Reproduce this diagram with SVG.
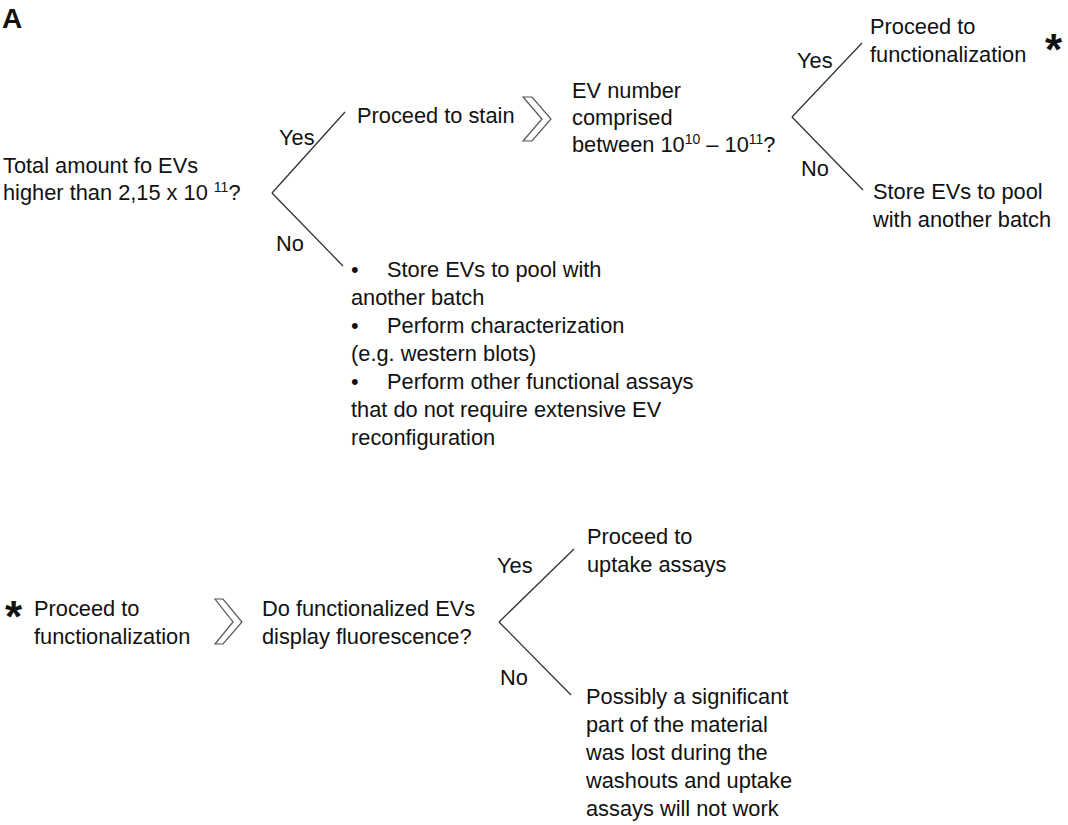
<svg xmlns="http://www.w3.org/2000/svg" width="1068" height="825" viewBox="0 0 1068 825">
<style>
text{font-family:"Liberation Sans",Arial,sans-serif;font-size:21.8px;fill:#111}
.b{font-weight:bold}
.sup{font-size:14px}
.star{font-size:44px;font-weight:bold}
.conn line{stroke:#333;stroke-width:1.3}
.chev{fill:#fff;stroke:#555;stroke-width:1.2;stroke-linejoin:miter}
</style>
<rect width="1068" height="825" fill="#fff"/>
<text class="b" x="2" y="28" style="font-size:28px">A</text>
<g id="q1"><text x="3" y="173">Total amount fo EVs</text><text x="3" y="200">higher than 2,15 x 10 <tspan class="sup" dy="-8">11</tspan><tspan dy="8">?</tspan></text></g>
<g id="stain"><text x="357" y="123">Proceed to stain</text></g>
<g id="chev1"><polygon class="chev" points="523,97 532,97 551,119 532,141 523,141 542,119"/></g>
<g id="q2"><text x="572" y="98">EV number</text><text x="572" y="125">comprised</text><text x="572" y="152">between 10<tspan class="sup" dy="-8">10</tspan><tspan dy="8"> – 10</tspan><tspan class="sup" dy="-8">11</tspan><tspan dy="8">?</tspan></text></g>
<g id="func1"><text x="870" y="34">Proceed to</text><text x="870" y="62">functionalization</text><text class="star" x="1045" y="65">*</text></g>
<g id="store1"><text x="873" y="199">Store EVs to pool</text><text x="873" y="227">with another batch</text></g>
<g id="list"><text x="351" y="277">•</text><text x="387" y="277">Store EVs to pool with</text><text x="351" y="305">another batch</text><text x="351" y="333">•</text><text x="387" y="333">Perform characterization</text><text x="351" y="361">(e.g. western blots)</text><text x="351" y="389">•</text><text x="387" y="389">Perform other functional assays</text><text x="351" y="417">that do not require extensive EV</text><text x="351" y="445">reconfiguration</text></g>
<g id="func2"><text class="star" x="5" y="632">*</text><text x="34" y="616">Proceed to</text><text x="34" y="644">functionalization</text></g>
<g id="chev2"><polygon class="chev" points="215,599 223,599 242,622 223,644 215,644 233,622"/></g>
<g id="q3"><text x="262" y="616">Do functionalized EVs</text><text x="262" y="644">display fluorescence?</text></g>
<g id="uptake"><text x="587" y="544">Proceed to</text><text x="587" y="572">uptake assays</text></g>
<g id="lost"><text x="586" y="704">Possibly a significant</text><text x="586" y="732">part of the material</text><text x="586" y="760">was lost during the</text><text x="586" y="788">washouts and uptake</text><text x="586" y="816">assays will not work</text></g>
<g class="conn" id="connectors">
<line x1="272" y1="193" x2="345" y2="112"/><line x1="272" y1="193" x2="343" y2="266"/>
<line x1="792" y1="117" x2="862" y2="43"/><line x1="792" y1="117" x2="863" y2="190"/>
<line x1="499" y1="622" x2="574" y2="549"/><line x1="499" y1="622" x2="571" y2="695"/>
<text x="279" y="145">Yes</text><text x="276" y="251">No</text>
<text x="797" y="68">Yes</text><text x="801" y="176">No</text>
<text x="497" y="573">Yes</text><text x="500" y="685">No</text>
</g>
</svg>
